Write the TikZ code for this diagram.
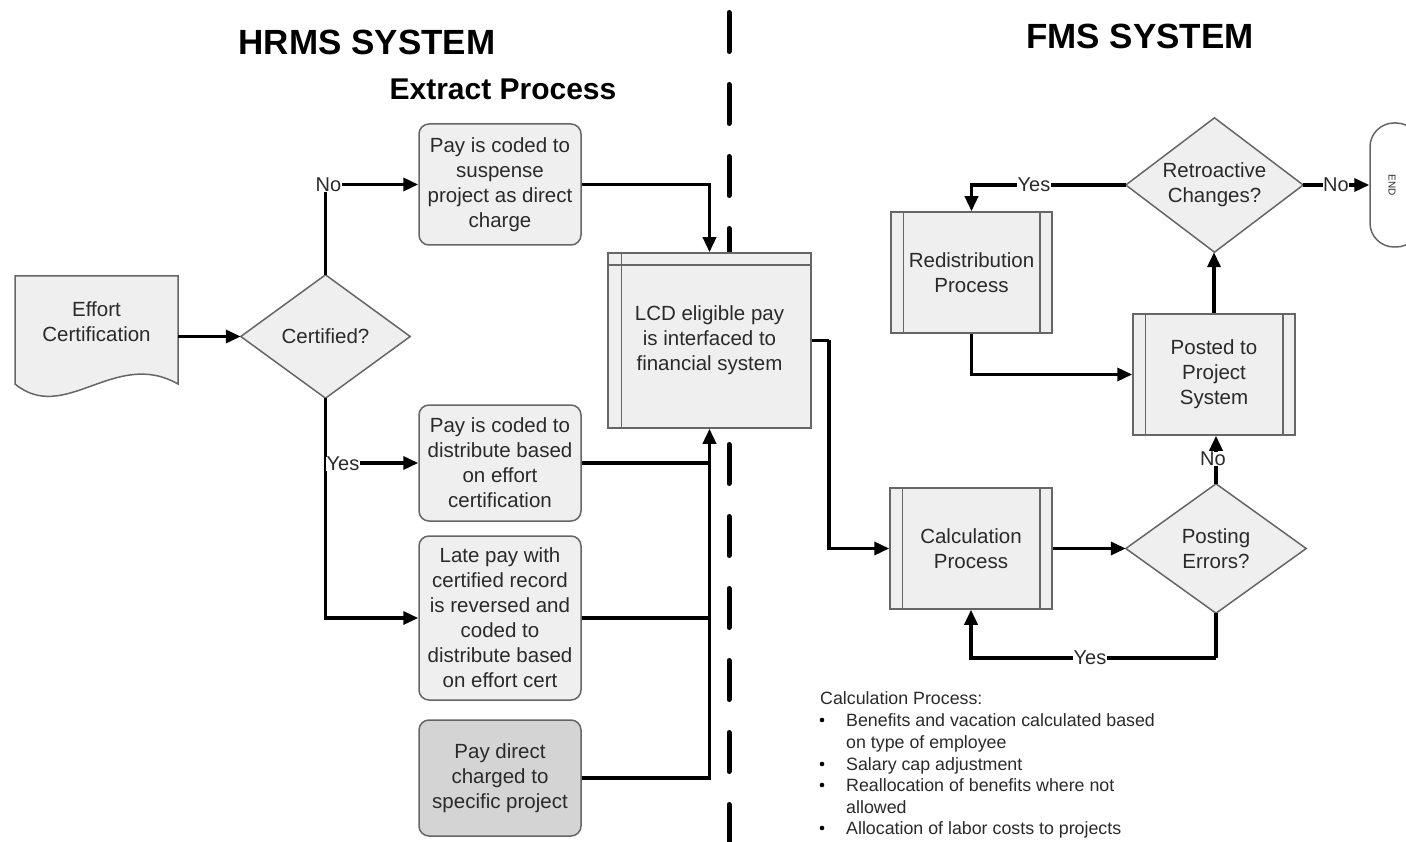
\documentclass[tikz,border=0pt]{standalone}
\usepackage{fontspec}
\setmainfont{Liberation Sans}
\usetikzlibrary{arrows.meta}
\definecolor{boxfill}{HTML}{EFEFEF}
\definecolor{boxdark}{HTML}{D4D4D4}
\definecolor{boxline}{HTML}{666666}
\definecolor{txt}{HTML}{2A2A2A}
\begin{document}
\begin{tikzpicture}[x=1pt,y=-1pt,
  base/.style={font=\fontsize{20.5}{25}\selectfont, text=txt, align=center, inner sep=0pt},
  rbox/.style={base, draw=boxline, line width=1.5pt, fill=boxfill, rounded corners=10pt, minimum width=162pt},
  pproc/.style={base, draw=boxline, line width=1.5pt, fill=boxfill, minimum width=162pt, minimum height=121pt},
  diadraw/.style={draw=boxline, line width=1.5pt, fill=boxfill},
  conn/.style={line width=3.5pt, black},
  arr/.style={conn, -{Triangle[length=15pt, width=13pt]}},
  lab/.style={font=\fontsize{20}{22}\selectfont, text=txt, fill=white, inner sep=0.5pt},
  title/.style={font=\bfseries\fontsize{35}{40}\selectfont, text=black, inner sep=0pt},
  note/.style={font=\fontsize{17.8}{21.5}\selectfont, text=txt, inner sep=0pt, anchor=base west}
]
\clip (0,0) rectangle (1406,842);
\fill[white] (0,0) rectangle (1406,842);

% divider
\draw[line width=5pt, line cap=round, dash pattern=on 39pt off 33pt] (729,12.5) -- (729,845);

% titles
\node[title] (hrms) at (367,42) {HRMS SYSTEM};
\node[title] (fms) at (1140,36) {FMS SYSTEM};
\node[title, font=\bfseries\fontsize{30}{34}\selectfont] (extract) at (503,89.5) {Extract Process};

% document
\node[minimum width=163pt, minimum height=120pt, inner sep=0pt] (doc) at (96.5,336.5) {};
\draw[diadraw] (15,276) -- (178,276) -- (178,384) .. controls (115,348) and (65,425) .. (15,384) -- cycle;
\node[base] (doctext) at (96.5,321.5) {Effort\\Certification};

% certified diamond
\node[base, minimum width=169pt, minimum height=123pt] (cert) at (325.5,336.5) {};
\draw[diadraw] (cert.north) -- (cert.east) -- (cert.south) -- (cert.west) -- cycle;
\node[base] (certtext) at (cert.center) {Certified?};

% left boxes
\node[rbox, minimum height=121pt] (box1) at (500,184.5) {Pay is coded to\\suspense\\project as direct\\charge};
\node[rbox, minimum height=116pt] (box2) at (500,463) {Pay is coded to\\distribute based\\on effort\\certification};
\node[rbox, minimum height=164pt] (box3) at (500,618) {Late pay with\\certified record\\is reversed and\\coded to\\distribute based\\on effort cert};
\node[rbox, minimum height=116pt, fill=boxdark] (box4) at (500,778) {Pay direct\\charged to\\specific project};

% LCD
\node[pproc, minimum width=203pt, minimum height=175pt] (lcd) at (709.5,340.5) {LCD eligible pay\\is interfaced to\\financial system};
\draw[draw=boxline, line width=1.5pt] ([xshift=14pt]lcd.north west) -- ([xshift=14pt]lcd.south west);
\draw[draw=boxline, line width=1.5pt] ([yshift=-13pt]lcd.north west) -- ([yshift=-13pt]lcd.north east);

% FMS nodes
\node[pproc] (calc) at (971,548.5) {Calculation\\Process};
\node[pproc, minimum width=161pt] (redis) at (971.5,272.5) {Redistribution\\Process};
\node[pproc] (posted) at (1214,374.5) {Posted to\\Project\\System};
\foreach \n in {calc,redis,posted}{
  \draw[draw=boxline, line width=1.5pt] ([xshift=13pt]\n.north west) -- ([xshift=13pt]\n.south west);
  \draw[draw=boxline, line width=1.5pt] ([xshift=-13pt]\n.north east) -- ([xshift=-13pt]\n.south east);
}

\node[base, minimum width=180pt, minimum height=129pt] (perr) at (1216,548.5) {};
\draw[diadraw] (perr.north) -- (perr.east) -- (perr.south) -- (perr.west) -- cycle;
\node[base] (perrtext) at (perr.center) {Posting\\Errors?};

\node[base, minimum width=177pt, minimum height=134pt] (retro) at (1214.5,185) {};
\draw[diadraw] (retro.north) -- (retro.east) -- (retro.south) -- (retro.west) -- cycle;
\node[base] (retrotext) at (retro.center) {Retroactive\\Changes?};

\node[draw=boxline, line width=1.5pt, fill=white, rounded corners=24pt, minimum width=50pt, minimum height=124pt, inner sep=0pt] (endn) at (1395,185) {};
\node[font=\fontsize{10}{11}\selectfont, text=txt, rotate=-90, inner sep=0pt] (endtext) at (1392,185) {END};

% connectors left
\draw[arr] (doc.east) -- (cert.west);
\draw[arr] (cert.north) |- (box1.west);
\node[lab] (no1) at (328.5,185) {No};
\draw[arr] (cert.south) |- (box3.west);
\draw[arr] (cert.south |- box2.west) -- (box2.west);
\node[lab] (yes1) at (343,464) {Yes};
\draw[arr] (box1.east) -| (lcd.north);
\draw[conn] (box2.east) -- (box2.east -| lcd.south);
\draw[conn] (box3.east) -- (box3.east -| lcd.south);
\draw[arr] (box4.east) -| (lcd.south);

% connectors right
\coordinate (bend1) at (829,340.5);
\draw[conn] (lcd.east) -- (bend1);
\draw[arr] (bend1) |- (calc.west);
\draw[arr] (calc.east) -- (perr.west);
\coordinate (bend2) at (1216,658);
\draw[conn] (perr.south) -- (bend2);
\draw[arr] (bend2) -| (calc.south);
\node[lab] (yes2) at (1090,658) {Yes};
\draw[arr] (perr.north) -- (perr.north |- posted.south);
\node[lab] (no2) at (1213,459) {No};
\draw[arr] (posted.north) -- (posted.north |- retro.south);
\draw[arr] (retro.west) -| (redis.north);
\node[lab] (yes3) at (1034,185) {Yes};
\draw[arr] (redis.south) |- (posted.west);
\draw[arr] (retro.east) -- (endn.west);
\node[lab] (no3) at (1336,185) {No};

% notes
\node[note] (n0) at (820,704) {Calculation Process:};
\foreach \y/\t [count=\i] in {726/{Benefits and vacation calculated based},748/{on type of employee},770/{Salary cap adjustment},791/{Reallocation of benefits where not},813/{allowed},834/{Allocation of labor costs to projects}}{
  \node[note] (nl\i) at (846,\y) {\t};
}
\foreach \y in {720,764,785,828}{
  \fill[black] (822,\y) circle (2.3pt);
}
\end{tikzpicture}
\end{document}
